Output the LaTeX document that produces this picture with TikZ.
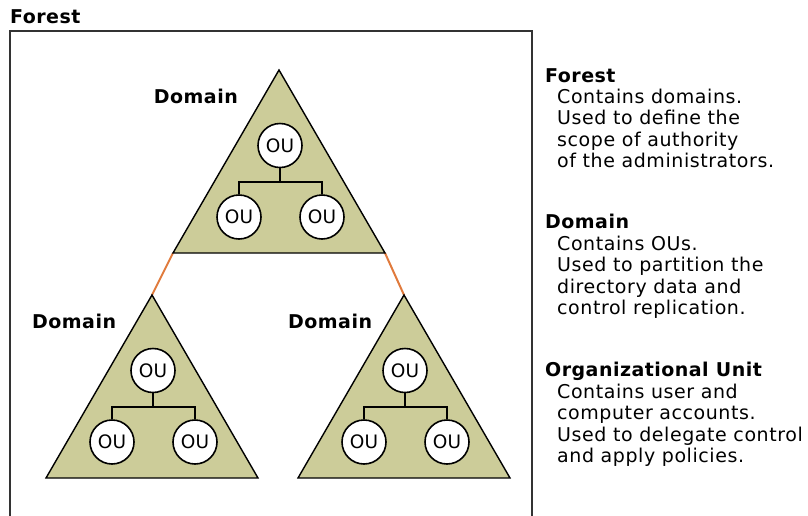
\documentclass[tikz,border=0pt]{standalone}
\usepackage{fontspec}
\setmainfont{DejaVu Sans}
\newfontfamily\legendfont[LetterSpace=3]{DejaVu Sans}
\newfontfamily\headfont[LetterSpace=2.5]{DejaVu Sans}
\definecolor{khaki}{HTML}{CCCC99}
\definecolor{linkorange}{HTML}{E07A3C}
\definecolor{framegray}{HTML}{333333}
\begin{document}
\begin{tikzpicture}[x=1pt,y=-1pt,
  domainshape/.style={fill=khaki, draw=black, line width=1.4pt, line join=miter},
  ou/.style={circle, draw=black, fill=white, line width=1.6pt, minimum size=44pt,
    inner sep=0pt, font=\fontsize{18.5}{20}\selectfont},
  tree/.style={draw=black, line width=1.4pt},
  link/.style={draw=linkorange, line width=2pt},
  framepen/.style={draw=framegray, line width=2pt},
  head/.style={anchor=base west, inner sep=0pt, font=\headfont\bfseries\fontsize{19}{21}\selectfont},
  body/.style={anchor=base west, inner sep=0pt, font=\legendfont\fontsize{19}{21}\selectfont},
  dlabel/.style={inner sep=0pt, font=\headfont\bfseries\fontsize{19}{21}\selectfont},
]
\useasboundingbox (0,0) rectangle (808,515);

% forest frame (open at the bottom)
\node[head] (foresttitle) at (10,23) {Forest};
\draw[framepen] (10,530) -- (10,31) -- (532,31) -- (532,530);

% corner points of the three domains
\foreach \n/\x/\y in {top/279/70, left/152/295, right/404/295} {
  \coordinate (\n apex) at (\x,\y);
  \coordinate (\n bl) at (\x-106,\y+183);
  \coordinate (\n br) at (\x+106,\y+183);
  \coordinate (\n bus) at (\x,\y+112);
}

% trust links between the domains
\draw[link] (topbl) -- (leftapex);
\draw[link] (topbr) -- (rightapex);

% domains with their OU hierarchies
\foreach \n/\x/\y in {top/279/70, left/152/295, right/404/295} {
  \path[domainshape] (\n apex) -- (\n br) -- (\n bl) -- cycle;
  \node[ou] (\n root) at (\x+1,\y+75.5) {OU};
  \node[ou] (\n ouA) at (\x-40,\y+147) {OU};
  \node[ou] (\n ouB) at (\x+43,\y+147) {OU};
  \draw[tree] (\n root.south) -- (\n root.south |- \n bus);
  \draw[tree] (\n ouA.north) -- (\n ouA.north |- \n bus) -- (\n ouB.north |- \n bus) -- (\n ouB.north);
}

% domain captions
\node[dlabel, anchor=base east] (toplabel) at (238,103) {Domain};
\node[dlabel, anchor=base west] (leftlabel) at (32,328) {Domain};
\node[dlabel, anchor=base west] (rightlabel) at (288,328) {Domain};

% legend
\node[head] (lgforest) at (545,82) {Forest};
\node[body] (lgf1) at (557,103) {Contains domains.};
\node[body] (lgf2) at (557,124) {Used to define the};
\node[body] (lgf3) at (557,146) {scope of authority};
\node[body] (lgf4) at (557,167) {of the administrators.};

\node[head] (lgdomain) at (545,228) {Domain};
\node[body] (lgd1) at (557,250) {Contains OUs.};
\node[body] (lgd2) at (557,271) {Used to partition the};
\node[body] (lgd3) at (557,293) {directory data and};
\node[body] (lgd4) at (557,314) {control replication.};

\node[head] (lgou) at (545,376) {Organizational Unit};
\node[body] (lgo1) at (557,398) {Contains user and};
\node[body] (lgo2) at (557,419) {computer accounts.};
\node[body] (lgo3) at (557,441) {Used to delegate control};
\node[body] (lgo4) at (557,462) {and apply policies.};
\end{tikzpicture}
\end{document}
